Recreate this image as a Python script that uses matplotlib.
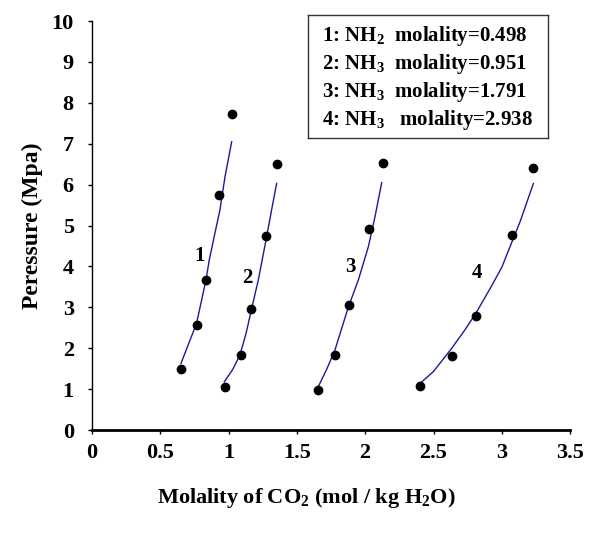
import matplotlib.pyplot as plt

plt.rcParams['font.family'] = 'Liberation Serif'
plt.rcParams['font.weight'] = 'bold'
plt.rcParams['mathtext.fontset'] = 'custom'
plt.rcParams['mathtext.rm'] = 'Liberation Serif:bold'
plt.rcParams['mathtext.bf'] = 'Liberation Serif:bold'
plt.rcParams['mathtext.it'] = 'Liberation Serif:bold'
plt.rcParams['mathtext.default'] = 'bf'

# ---------------------------
# measured points (CO2 molality, pressure)
# ---------------------------
x1 = [0.652, 0.769, 0.835, 0.932, 1.025]
y1 = [1.50, 2.57, 3.67, 5.75, 7.73]
x2 = [0.971, 1.088, 1.166, 1.276, 1.354]
y2 = [1.06, 1.84, 2.97, 4.74, 6.50]
x3 = [1.657, 1.779, 1.879, 2.028, 2.128]
y3 = [0.99, 1.84, 3.07, 4.91, 6.54]
x4 = [2.401, 2.638, 2.813, 3.077, 3.228]
y4 = [1.08, 1.81, 2.79, 4.78, 6.41]

# ---------------------------
# fitted curves
# ---------------------------
cx1 = [0.652, 0.766, 0.835, 0.859, 0.900, 0.937, 0.974, 1.023]
cy1 = [1.63, 2.61, 3.67, 4.16, 4.81, 5.38, 6.19, 7.05]
cx2 = [0.969, 1.030, 1.083, 1.128, 1.169, 1.218, 1.279, 1.315, 1.352]
cy2 = [1.18, 1.48, 1.83, 2.36, 2.97, 3.67, 4.73, 5.38, 6.03]
cx3 = [1.657, 1.720, 1.779, 1.877, 1.950, 2.023, 2.072, 2.121]
cy3 = [1.06, 1.50, 1.96, 3.01, 3.67, 4.48, 5.22, 6.05]
cx4 = [2.401, 2.499, 2.633, 2.730, 2.816, 2.914, 3.000, 3.045, 3.133, 3.231]
cy4 = [1.14, 1.43, 2.00, 2.45, 2.89, 3.46, 3.98, 4.36, 5.09, 6.03]

curve_labels = ["1", "2", "3", "4"]
label_x = [0.785, 1.137, 1.889, 2.816]
label_y = [4.25, 3.71, 3.99, 3.83]

legend_lines = [
    "1: NH$_2$  molality=0.498",
    "2: NH$_3$  molality=0.951",
    "3: NH$_3$  molality=1.791",
    "4: NH$_3$   molality=2.938",
]

fig = plt.figure(figsize=(5.89, 5.41), dpi=100)
ax = fig.add_axes([0.156, 0.205, 0.812, 0.756])

for cx, cy in [(cx1, cy1), (cx2, cy2), (cx3, cy3), (cx4, cy4)]:
    ax.plot(cx, cy, color="#1a1a9a", linewidth=1.0)
for x, y in [(x1, y1), (x2, y2), (x3, y3), (x4, y4)]:
    ax.plot(x, y, "o", color="black", markersize=6)

for lab, lx, ly in zip(curve_labels, label_x, label_y):
    ax.text(lx, ly, lab, fontsize=15, fontweight="bold", ha="center", va="center")

ax.set_xlim(0, 3.5)
ax.set_ylim(0, 10)
ax.set_xticks([0, 0.5, 1, 1.5, 2, 2.5, 3, 3.5])
ax.set_xticklabels(["0", "0.5", "1", "1.5", "2", "2.5", "3", "3.5"])
ax.set_yticks(range(0, 11))
ax.spines["top"].set_visible(False)
ax.spines["right"].set_visible(False)
ax.spines["left"].set_linewidth(1.0)
ax.spines["bottom"].set_linewidth(2.0)
ax.tick_params(direction="out", length=3, width=1, labelsize=16)
ax.tick_params(axis="y", pad=10)
ax.tick_params(axis="x", pad=6)
for t in ax.get_xticklabels() + ax.get_yticklabels():
    t.set_fontweight("bold")

ax.set_ylabel("Peressure (Mpa)", fontsize=17, fontweight="bold", labelpad=6)
fig.text(0.52, 0.08, "Molality of CO$_2$ (mol / kg H$_2$O)", fontsize=16,
         fontweight="bold", ha="center", va="center")

# legend box
box_ax = fig.add_axes([308 / 589, 1 - 138 / 541, 240 / 589, 123 / 541])
box_ax.set_xticks([])
box_ax.set_yticks([])
box_ax.set_xlim(0, 1)
box_ax.set_ylim(0, 1)
for s in box_ax.spines.values():
    s.set_linewidth(1.0)
    s.set_color("#333333")
for i, line in enumerate(legend_lines):
    box_ax.text(0.06, 0.83 - i * 0.228, line, fontsize=15, fontweight="bold",
                ha="left", va="center")

fig.savefig("out.png", dpi=100)
